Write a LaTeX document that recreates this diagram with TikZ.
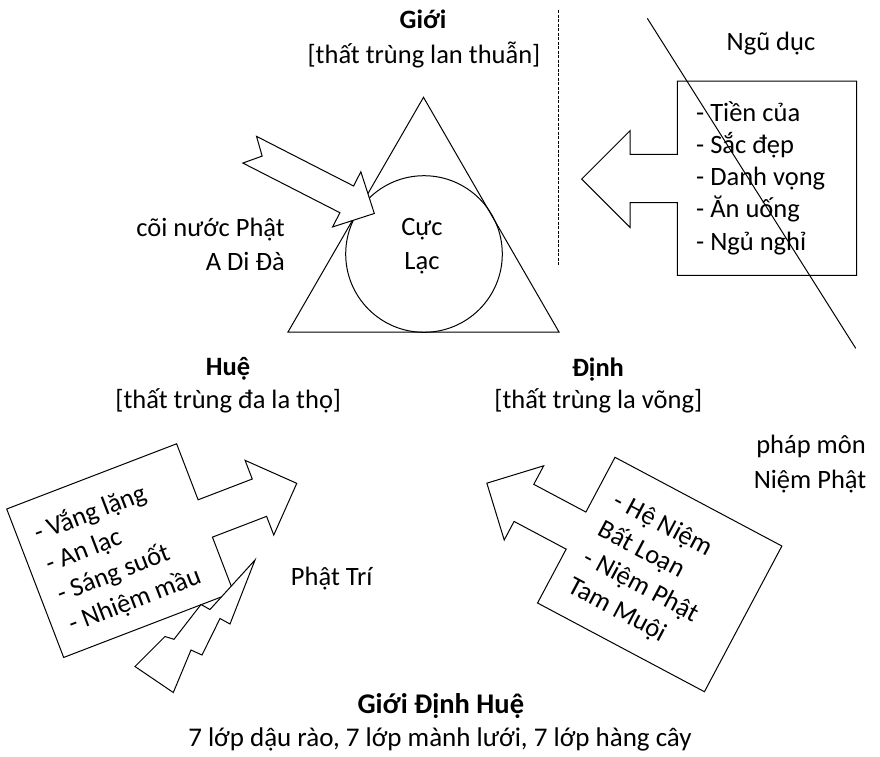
\documentclass[tikz,border=0pt]{standalone}
\usepackage{fontspec}
\setmainfont{Carlito}
\usepackage{tikz}
\usetikzlibrary{positioning}
\tikzset{
		shape line/.style={
			draw=black,
			line width=1pt,
			fill=white,
			line join=miter
		},
		label text/.style={
			inner sep=0pt,
			anchor=base,
			font=\fontsize{26.5}{32}\selectfont
		},
		title text/.style={
			label text,
			font=\fontsize{26.5}{32}\selectfont\bfseries
		},
		list text/.style={
			inner sep=0pt,
			align=left,
			font=\fontsize{26.5}{32.3}\selectfont
		}
	}
\begin{document}
\begin{tikzpicture}[x=1pt, y=-1pt]
		\fill[white] (0,0) rectangle (880,756);
		\useasboundingbox (0,0) rectangle (880,756);
		% Gioi, triangle and circle
		\draw[line width=1pt, dash pattern=on 3pt off 1.5pt] (558.5,10) -- (558.5,265);
		\draw[shape line] (288,332) -- (423.5,97.3) -- (559,332) -- cycle;
		\draw[shape line, fill=none] (424,254) circle[radius=78.3pt];
		\begin{scope}[shift={(249.7,149.7)}, rotate=-27.1]
			\draw[shape line] (0,-15) -- (109,-15) -- (109,-31) -- (140,0) -- (109,31) -- (109,15) -- (0,15) -- (14,0) -- cycle;
		\end{scope}
		% Ngu duc callout
		\draw[shape line] (677.3,81) -- (856.7,81) -- (856.7,275.3) -- (677.3,275.3) -- (677.3,202.7) -- (630,202.7) -- (630,227.3) -- (581.7,179) -- (630,130.7) -- (630,154.3) -- (677.3,154.3) -- cycle;
		\node[list text, anchor=west] (ngu duc list) at (696,178) {- Tiền của\\- Sắc đẹp\\- Danh vọng\\- Ăn uống\\- Ngủ nghỉ};
		\draw[line width=1pt] (647.3,18.3) -- (855.7,348.3);
		% Hue callout and lightning
		\begin{scope}[shift={(6.7,509)}, rotate=21]
			\draw[shape line] (0,0) -- (182,0) -- (182,60) -- (240,60) -- (240,40) -- (280,80) -- (240,120) -- (240,100) -- (182,100) -- (182,159) -- (0,159) -- cycle;
			\node[list text, anchor=west, rotate=21] (hue list) at (17,82) {- Vắng lặng\\- An lạc\\- Sáng suốt\\- Nhiệm mầu};
		\end{scope}
		\draw[shape line] (255,560) -- (230,624) -- (220,618.5) -- (202,655) -- (191,650) -- (173.3,692.5) -- (135,666.5) -- (165,636.5) -- (174,639.3) -- (201,604.5) -- (210,609.5) -- cycle;
		% Dinh callout
		\begin{scope}[shift={(615,457.3)}, rotate=-28]
			\draw[shape line] (0,0) -- (189,0) -- (189,165) -- (0,165) -- (0,104) -- (-59,104) -- (-59,125) -- (-101,83) -- (-59,41) -- (-59,62) -- (0,62) -- cycle;
			\node[list text, anchor=west, rotate=-28] (dinh list) at (20,86) {- Hệ Niệm\\Bất Loạn\\- Niệm Phật\\Tam Muội};
		\end{scope}
		%labels:
		\node[title text] (gioi) at (423,28.3) {Giới};
		\node[label text] (gioi sub) at (424,63.3) {[thất trùng lan thuẫn]};
		\node[label text] (ngu duc) at (771,50) {Ngũ dục};
		\node[label text, anchor=base east] (coi nuoc) at (285,236.7) {cõi nước Phật};
		\node[label text, anchor=base east] (a di da) at (285,270) {A Di Đà};
		\node[label text] (cuc) at (422,235) {Cực};
		\node[label text] (lac) at (422,269.3) {Lạc};
		\node[title text] (hue) at (228,375) {Huệ};
		\node[label text] (hue sub) at (228.3,408.3) {[thất trùng đa la thọ]};
		\node[title text] (dinh) at (598,376) {Định};
		\node[label text] (dinh sub) at (598.3,408.3) {[thất trùng la võng]};
		\node[label text] (phap mon) at (811,453.3) {pháp môn};
		\node[label text] (niem phat) at (810,488.3) {Niệm Phật};
		\node[label text] (phat tri) at (331.7,585) {Phật Trí};
		\node[title text, font=\fontsize{28.5}{32}\selectfont\bfseries] (gdh) at (440.8,713.3) {Giới Định Huệ};
		\node[label text, font=\fontsize{27}{32}\selectfont] (bay lop) at (440,746.5) {7 lớp dậu rào, 7 lớp mành lưới, 7 lớp hàng cây};
	\end{tikzpicture}
\end{document}
